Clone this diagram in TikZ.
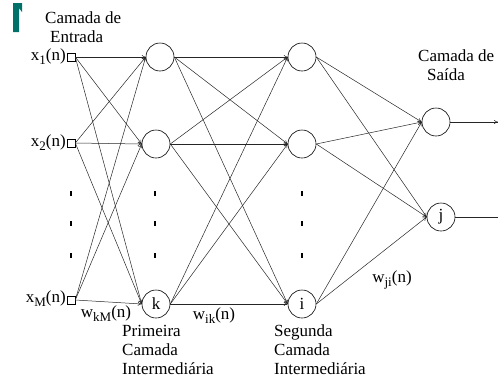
\documentclass[tikz,border=0pt]{standalone}
\usepackage{fontspec}
\setmainfont{Liberation Serif}
\newfontfamily\rotfont{Liberation Serif}
\usetikzlibrary{arrows.meta}
\definecolor{marca}{RGB}{0,112,104}
\newcommand{\baixo}[1]{\raisebox{-4pt}{\fontsize{13}{13}\selectfont #1}}
\begin{document}
\begin{tikzpicture}[x=1pt,y=-1pt,
	neuronio/.style={draw,circle,minimum size=28pt,inner sep=0pt,line width=0.6pt},
	entrada/.style={draw,rectangle,minimum size=8pt,inner sep=0pt,line width=0.6pt},
	rotulo/.style={font=\rotfont\fontsize{17}{19}\selectfont,inner sep=0pt},
	liga/.style={-{To[length=4pt,width=4pt]},line width=0.5pt,black!85},
	ponto/.style={fill=black,minimum width=2pt,minimum height=5pt,inner sep=0pt}]
				\useasboundingbox (0,0) rectangle (498,378);
				\fill [marca] (13,3) -- (22,3) -- (22,12) -- (19,8) -- (19,32) -- (13,32) -- cycle;
				\node [rotulo,align=left,anchor=west] (tEnt) at (45,27) {Camada de\\\hspace*{5pt}Entrada};
				\node [entrada] (x1) at (71,57) {};
				\node [entrada] (x2) at (71,143) {};
				\node [entrada] (xM) at (71,300) {};
				\node [rotulo,anchor=east] (lx1) at (66,57) {x\baixo{1}(n)};
				\node [rotulo,anchor=east] (lx2) at (66,143) {x\baixo{2}(n)};
				\node [rotulo,anchor=east] (lxM) at (66,299) {x\baixo{M}(n)};
				\node [neuronio] (h1) at (160,57) {};
				\node [neuronio] (h2) at (156,144) {};
				\node [neuronio,rotulo,minimum size=28pt,draw] (k) at (156,304) {k};
				\node [neuronio] (s1) at (302,57) {};
				\node [neuronio] (s2) at (302,144) {};
				\node [neuronio,rotulo,minimum size=28pt,draw] (i) at (302,304) {i};
				\node [neuronio] (o1) at (436,122) {};
				\node [neuronio,rotulo,minimum size=28pt,draw] (j) at (441,217) {j};
				\coordinate (fim1) at (498,122);
				\coordinate (fim2) at (498,217);
				\node [ponto] (p1a) at (71,193) {};
				\node [ponto] (p1b) at (71,223) {};
				\node [ponto] (p1c) at (71,255) {};
				\node [ponto] (p2a) at (155,193) {};
				\node [ponto] (p2b) at (155,223) {};
				\node [ponto] (p2c) at (155,255) {};
				\node [ponto] (p3a) at (302,193) {};
				\node [ponto] (p3b) at (302,223) {};
				\node [ponto] (p3c) at (302,255) {};
				\draw [liga] (x1.east) -- (h1.west);
				\draw [liga] (x1.east) -- (h2.west);
				\draw [liga] (x1.east) -- (k.west);
				\draw [liga] (x2.east) -- (h1.west);
				\draw [liga] (x2.east) -- (h2.west);
				\draw [liga] (x2.east) -- (k.west);
				\draw [liga] (xM.east) -- (h1.west);
				\draw [liga] (xM.east) -- (h2.west);
				\draw [liga] (xM.east) -- (k.west);
				\draw [liga] (h1.east) -- (s1.west);
				\draw [liga] (h1.east) -- (s2.west);
				\draw [liga] (h1.east) -- (i.west);
				\draw [liga] (h2.east) -- (s1.west);
				\draw [liga] (h2.east) -- (s2.west);
				\draw [liga] (h2.east) -- (i.west);
				\draw [liga] (k.east) -- (s1.west);
				\draw [liga] (k.east) -- (s2.west);
				\draw [liga] (k.east) -- (i.west);
				\draw [liga] (s1.east) -- (o1.west);
				\draw [liga] (s1.east) -- (j.west);
				\draw [liga] (s2.east) -- (o1.west);
				\draw [liga] (s2.east) -- (j.west);
				\draw [liga] (i.east) -- (o1.west);
				\draw [liga] (i.east) -- (j.west);
				\draw [liga] (o1.east) -- (fim1);
				\draw [line width=0.5pt,black!85] (j.east) -- (fim2);
				\node [rotulo] (wkM) at (106,314) {w\baixo{kM}(n)};
				\node [rotulo] (wik) at (214,316) {w\baixo{ik}(n)};
				\node [rotulo] (wji) at (392,280) {w\baixo{ji}(n)};
				\node [rotulo,align=left,anchor=west] (tPri) at (122,350) {Primeira\\Camada\\Intermediária};
				\node [rotulo,align=left,anchor=west] (tSeg) at (274,350) {Segunda\\Camada\\Intermediária};
				\node [rotulo,align=left,anchor=west] (tSai) at (418,65) {Camada de\\\hspace*{9pt}Saída};
				\end{tikzpicture}
\end{document}
